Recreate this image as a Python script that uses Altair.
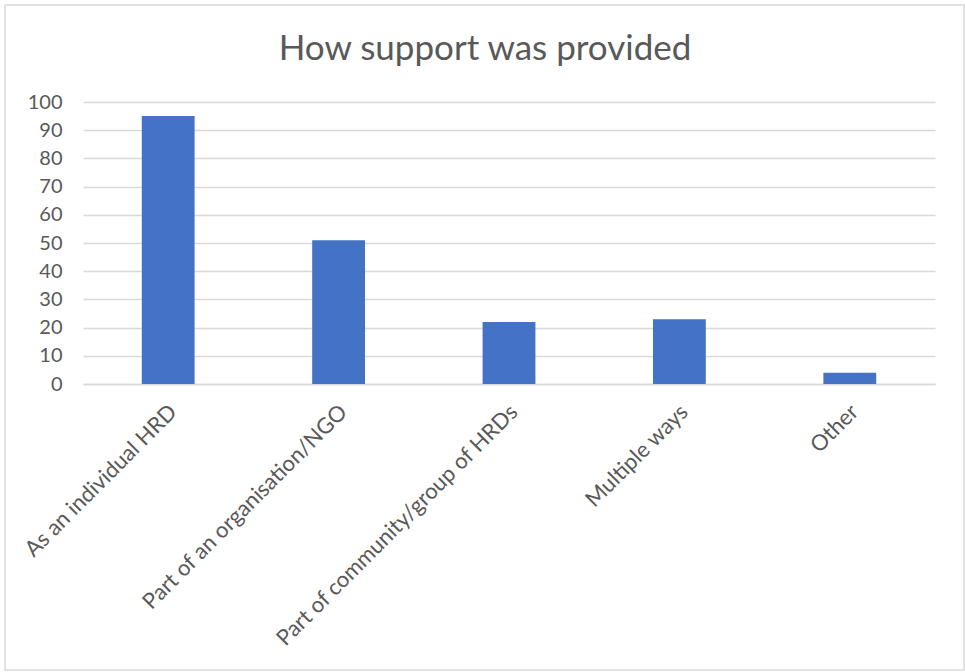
import altair as alt
import pandas as pd

title_text = "How support was provided"
categories = [
    "As an individual HRD",
    "Part of an organisation/NGO",
    "Part of community/group of HRDs",
    "Multiple ways",
    "Other",
]
values = [95, 51, 22, 23, 4]
y_ticks = list(range(0, 101, 10))

df = pd.DataFrame({"category": categories, "count": values})
deco_df = pd.DataFrame({"k": [0]})

FONT = "Lato"
GREY = "#595959"

bars = alt.Chart(df).mark_bar(color="#4472C4").encode(
    x=alt.X(
        "category:N",
        sort=categories,
        scale=alt.Scale(paddingInner=0.69, paddingOuter=0.345),
        axis=alt.Axis(
            title=None,
            labelAngle=-45,
            labelAlign="right",
            labelBaseline="middle",
            labelFontSize=22,
            labelColor=GREY,
            labelFont=FONT,
            ticks=False,
            domain=True,
            domainColor="#d9d9d9",
            domainWidth=1.5,
            labelPadding=24,
            labelOffset=5,
            labelLimit=600,
        ),
    ),
    y=alt.Y(
        "count:Q",
        scale=alt.Scale(domain=[0, 100], nice=False),
        axis=alt.Axis(
            title=None,
            values=y_ticks,
            labelFontSize=20,
            labelColor=GREY,
            labelFont=FONT,
            ticks=False,
            domain=False,
            gridColor="#d9d9d9",
            gridWidth=1.5,
            labelPadding=21,
        ),
    ),
)

frame = alt.Chart(deco_df).mark_rect(
    fill=None, fillOpacity=0, stroke="#d9d9d9", strokeWidth=1.5
).encode(
    x=alt.value(-78),
    x2=alt.value(881),
    y=alt.value(-97),
    y2=alt.value(568),
)

title = alt.Chart(deco_df).mark_text(
    font=FONT, fontSize=35, color=GREY, align="center", baseline="middle"
).encode(
    text=alt.value(title_text),
    x=alt.value(402),
    y=alt.value(-53),
)

chart = alt.layer(frame, title, bars).properties(
    width=852,
    height=282,
    padding={"left": 83, "top": 102, "right": 30, "bottom": 288},
    autosize=alt.AutoSizeParams(type="none"),
    background="white",
).configure_view(stroke=None)

chart.save("out.html", embed_options={"renderer": "svg", "actions": False})
